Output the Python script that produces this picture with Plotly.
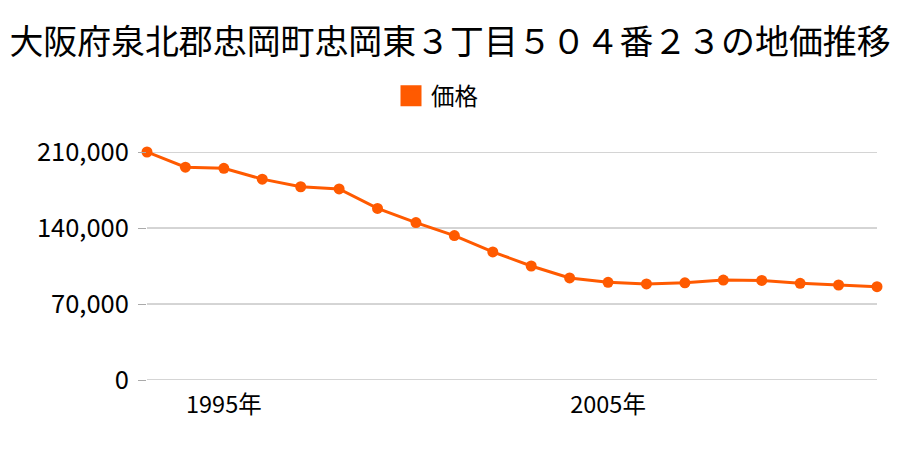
import plotly.graph_objects as go

title_text = "大阪府泉北郡忠岡町忠岡東３丁目５０４番２３の地価推移"
series_name = "価格"
years = list(range(1993, 2013))
prices = [210000, 196000, 195000, 185000, 178000, 176000, 158000, 145000, 133000, 118000,
          105000, 94000, 90000, 88500, 89500, 92000, 91700, 89000, 87500, 86000]
y_ticks = [0, 70000, 140000, 210000]
x_ticks = [1995, 2005]
x_tick_labels = ["1995年", "2005年"]

color = "#ff5a00"
grid_color = "#aaaaaa"
font_family = "Noto Sans CJK JP"

fig = go.Figure()
for v in y_ticks:
    fig.add_hline(y=v, line=dict(color=grid_color, width=1), layer="below")

fig.add_trace(go.Scatter(
    x=years, y=prices, mode="lines+markers", name=series_name,
    line=dict(color=color, width=3),
    marker=dict(color=color, size=11),
    cliponaxis=False, showlegend=False,
))
# legend entry: square swatch
fig.add_trace(go.Scatter(
    x=[None], y=[None], mode="markers", name=series_name,
    marker=dict(color=color, size=16, symbol="square", line=dict(color=color, width=5)),
    showlegend=True,
))

fig.update_layout(
    width=900, height=450,
    margin=dict(l=147, r=23, t=152, b=70, autoexpand=False),
    paper_bgcolor="white", plot_bgcolor="white",
    font=dict(family=font_family, color="#000000"),
    title=dict(text=title_text, x=0.5, xanchor="center", y=1 - 42 / 450, yanchor="middle",
               font=dict(size=33.9, family=font_family, color="#000000")),
    showlegend=True,
    legend=dict(orientation="h", x=(437 - 147) / 730, xanchor="center",
                y=1 + (152 - 96) / 228, yanchor="middle",
                font=dict(size=23.5), itemsizing="trace", itemwidth=30),
    xaxis=dict(range=[1993, 2012], tickvals=x_ticks, ticktext=x_tick_labels,
               showgrid=False, zeroline=False, showline=False, ticks="",
               tickfont=dict(size=23.5), ticklabelstandoff=8),
    yaxis=dict(range=[0, 210000], tickvals=y_ticks, tickformat=",",
               showgrid=False, zeroline=False,
               ticks="outside", ticklen=8, tickcolor=grid_color,
               showline=False, tickfont=dict(size=25.5), ticklabelstandoff=4),
)

fig.write_html("out.html")
